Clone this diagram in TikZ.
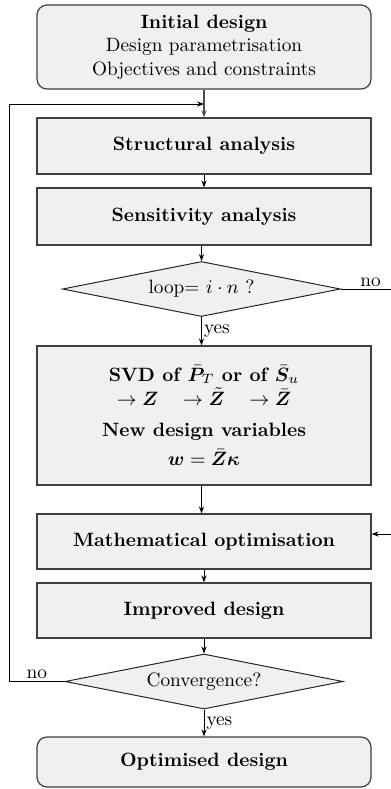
\RequirePackage{fix-cm}
\documentclass[tikz,border=0pt]{standalone}
\usepackage{amsmath,bm}
\usetikzlibrary{shapes.geometric,arrows.meta}
\begin{document}
\begin{tikzpicture}[x=0.5pt,y=-0.5pt,
  font=\fontsize{9.65}{11.75}\selectfont,
  box/.style={draw=black!75, line width=0.6pt, fill=black!6, rectangle, minimum width=167pt, inner sep=0pt, align=center},
  rbox/.style={box, rounded corners=5pt},
  dec/.style={draw=black!85, line width=0.5pt, fill=black!6, diamond, aspect=5.05, inner sep=0pt, minimum width=139pt, minimum height=27.5pt},
  arr/.style={-{Stealth[length=3.5pt,width=2.6pt]}, line width=0.5pt},
  lbl/.style={inner sep=1pt}]
\useasboundingbox (0,0) rectangle (391,789);

\node[rbox, minimum height=42pt] (init) at (204,47) {\textbf{Initial design}\\ Design parametrisation\\ Objectives and constraints};
\node[box, minimum height=28pt] (struct) at (204,146) {\textbf{Structural analysis}};
\node[box, minimum height=28.5pt] (sens) at (204,216.5) {\textbf{Sensitivity analysis}};
\node[dec] (loop) at (201.5,289) {loop= $i\cdot n$ ?};
\node[box, minimum height=69.5pt] (svd) at (204,415.5) {\textbf{SVD of $\bar{\bm P}_T$ or of $\bar{\bm S}_u$}\\[0.5pt] $\rightarrow \bm Z \quad \rightarrow \tilde{\bm Z} \quad \rightarrow \bar{\bm Z}$\\[3.5pt] \textbf{New design variables}\\[3pt] $\bm w = \bar{\bm Z}\bm\kappa$};
\node[box, minimum height=27.5pt] (math) at (204,541.5) {\textbf{Mathematical optimisation}};
\node[box, minimum height=27.5pt] (impr) at (204,610.5) {\textbf{Improved design}};
\node[dec] (conv) at (204,681.5) {Convergence?};
\node[rbox, minimum height=25pt] (opt) at (204,762) {\textbf{Optimised design}};

\coordinate (c1) at (9,681.5);
\coordinate (c2) at (9,104);
\coordinate (c3) at (204,104);
\coordinate (r1) at (392,289);
\coordinate (r2) at (392,534);

\draw[arr, draw=black!70, line width=0.8pt] (init) -- (struct);
\draw[arr] (struct) -- (sens);
\draw[arr] (sens.south -| loop) -- (loop);
\draw[arr] (loop) -- node[right, lbl] {yes} (svd.north -| loop);
\draw[arr] (svd.south -| loop) -- (math.north -| loop);
\draw[arr] (math) -- (impr);
\draw[arr] (impr) -- (conv);
\draw[arr] (conv) -- node[right, lbl] {yes} (opt);
\draw[arr] (conv.west) -- node[above, lbl, pos=0.5] {no} (c1) -- (c2) -- (c3);
\draw[arr] (loop.east) -- node[above, lbl, pos=0.58] {no} (r1) -- (r2) -- (r2 -| math.east);
\end{tikzpicture}
\end{document}
